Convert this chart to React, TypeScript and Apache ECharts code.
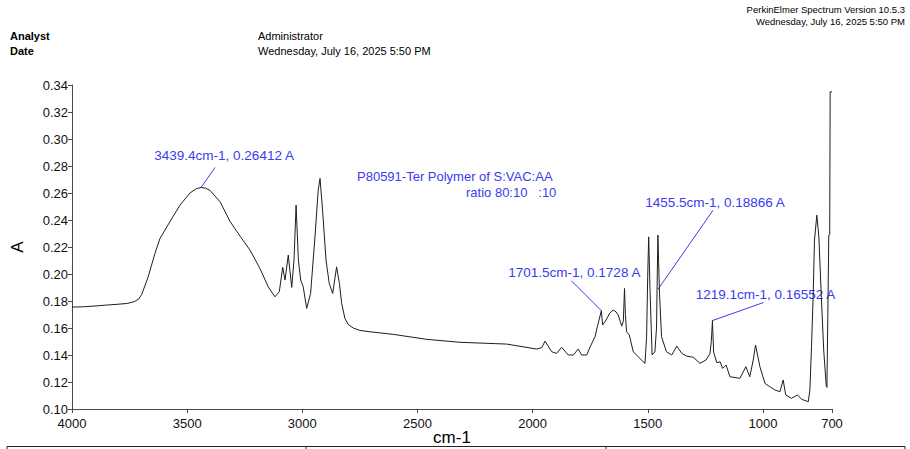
import React, { useEffect, useRef } from "react";
import * as echarts from "echarts";

// Spectrum values (wavenumber in cm-1, absorbance in A)
const wavenumbers = [
  4000, 3950, 3900, 3850, 3800, 3760, 3730, 3710, 3697, 3669, 3640, 3618, 3575, 3531, 3488, 3460, 3439.4, 3420,
  3401, 3357, 3314, 3270, 3227, 3184, 3148, 3119, 3100, 3085, 3075, 3061, 3046, 3036, 3027, 3017, 3007, 2996,
  2981, 2964, 2945, 2931, 2923, 2912, 2897, 2883, 2868, 2851, 2839, 2829, 2815, 2800, 2779, 2750, 2706, 2605,
  2460, 2315, 2113, 1982, 1960, 1946, 1917, 1896, 1874, 1845, 1823, 1802, 1787, 1765, 1750, 1736, 1729, 1719,
  1701.5, 1696, 1681, 1665, 1650, 1638, 1628, 1613, 1606, 1601, 1597, 1592, 1580, 1563, 1541, 1520, 1512, 1505,
  1500, 1496, 1490, 1481, 1469, 1462, 1456, 1453, 1449, 1440, 1419, 1396, 1374, 1352, 1331, 1302, 1273, 1247,
  1230, 1224, 1219.1, 1214, 1200, 1186, 1175, 1160, 1143, 1100, 1074, 1057, 1042, 1032, 1013, 991, 970, 948,
  926, 912, 901, 876, 850, 832, 803, 796, 789, 782, 776, 766, 757, 747, 736, 725, 722, 718, 714, 710, 708, 700,
];
const absorbance = [
  0.1755, 0.1757, 0.1763, 0.177, 0.1776, 0.1782, 0.1795, 0.1815, 0.185, 0.198, 0.2152, 0.2263, 0.2387, 0.251,
  0.26, 0.2632, 0.26412, 0.2636, 0.262, 0.2535, 0.239, 0.228, 0.2177, 0.2041, 0.1905, 0.1831, 0.1868, 0.2049,
  0.1955, 0.214, 0.1901, 0.2103, 0.251, 0.2103, 0.1955, 0.1905, 0.1745, 0.1856, 0.2275, 0.2621, 0.2708, 0.2473,
  0.2103, 0.193, 0.1856, 0.2053, 0.193, 0.1782, 0.1671, 0.1625, 0.16, 0.1582, 0.1572, 0.1553, 0.1516, 0.1494,
  0.1481, 0.1444, 0.1455, 0.1503, 0.1424, 0.1412, 0.1457, 0.14, 0.14, 0.1444, 0.14, 0.14, 0.146, 0.1511, 0.1535,
  0.1609, 0.1728, 0.1622, 0.1659, 0.171, 0.1733, 0.172, 0.1696, 0.1614, 0.165, 0.1893, 0.17, 0.1572, 0.1548,
  0.1424, 0.1387, 0.135, 0.1338, 0.1535, 0.2, 0.2275, 0.1868, 0.14, 0.1424, 0.16, 0.2288, 0.21, 0.1856, 0.1535,
  0.1424, 0.14, 0.1466, 0.1412, 0.1392, 0.1383, 0.1338, 0.1363, 0.141, 0.15, 0.16552, 0.142, 0.1343, 0.135,
  0.1301, 0.1326, 0.1239, 0.1227, 0.1313, 0.1239, 0.1363, 0.1474, 0.1313, 0.119, 0.1165, 0.1141, 0.1128, 0.1215,
  0.1104, 0.1079, 0.1104, 0.1072, 0.1054, 0.1141, 0.1461, 0.1831, 0.2251, 0.2436, 0.2275, 0.1856, 0.1437, 0.117,
  0.116, 0.1708, 0.2288, 0.229, 0.3349, 0.335,
];

const xTickValues = [4000, 3500, 3000, 2500, 2000, 1500, 1000, 700];
const yTickMin = 0.1;
const yTickMax = 0.34;
const yTickStep = 0.02;

const peakWavenumbers = [3439.4, 1701.5, 1455.5, 1219.1];
const peakAbsorbances = [0.26412, 0.1728, 0.18866, 0.16552];
const peakTexts = [
  "3439.4cm-1, 0.26412 A",
  "1701.5cm-1, 0.1728 A",
  "1455.5cm-1, 0.18866 A",
  "1219.1cm-1, 0.16552 A",
];

const sampleTitle = "P80591-Ter Polymer of S:VAC:AA";
const sampleRatio = "ratio 80:10   :10";
const headerLines = ["PerkinElmer Spectrum Version 10.5.3", "Wednesday, July 16, 2025 5:50 PM"];
const infoKeys = ["Analyst", "Date"];
const infoValues = ["Administrator", "Wednesday, July 16, 2025 5:50 PM"];

// layout: offsets of leader-line end and label centre from each peak point (pixels)
const labelLayout = [
  { lx: 14, ly: -20, tx: 23, ty: -32 },
  { lx: -30, ly: -30, tx: -27, ty: -38 },
  { lx: 55, ly: -79, tx: 57, ty: -87 },
  { lx: 51, ly: -18, tx: 53, ty: -26 },
];

const FONT = "'Liberation Sans', Arial, Helvetica, sans-serif";
const BLUE = "#3b3bf0";

export default function App() {
  const ref = useRef<HTMLDivElement>(null);

  useEffect(() => {
    if (!ref.current) return;
    const chart = echarts.init(ref.current, undefined, { renderer: "svg" });
    const axisColor = "#4a4a4a";
    chart.setOption({
      animation: false,
      backgroundColor: "#ffffff",
      grid: { left: 72, right: 78, top: 85, bottom: 40, containLabel: false, outerBoundsMode: "none" },
      xAxis: {
        type: "value",
        min: 700,
        max: 4000,
        inverse: true,
        name: "cm-1",
        nameLocation: "middle",
        nameGap: 20,
        nameMoveOverlap: false,
        nameTextStyle: { fontSize: 17, color: "#000", fontFamily: FONT },
        axisLine: { show: true, lineStyle: { color: axisColor, width: 1 } },
        axisTick: { show: true, length: 4, customValues: xTickValues, lineStyle: { color: axisColor } },
        axisLabel: {
          customValues: xTickValues,
          fontSize: 13,
          color: "#111",
          margin: 8,
          fontFamily: FONT,
          showMinLabel: true,
          showMaxLabel: true,
          formatter: (v: number) => String(v),
        },
        splitLine: { show: false },
      },
      yAxis: {
        type: "value",
        min: yTickMin,
        max: yTickMax,
        interval: yTickStep,
        name: "A",
        nameLocation: "middle",
        nameRotate: 90,
        nameGap: 46,
        nameMoveOverlap: false,
        nameTextStyle: { fontSize: 17, color: "#000", fontFamily: FONT },
        axisLine: { show: true, lineStyle: { color: axisColor, width: 1 } },
        axisTick: { show: true, length: 4, lineStyle: { color: axisColor } },
        axisLabel: {
          fontSize: 13,
          color: "#111",
          margin: 4,
          fontFamily: FONT,
          formatter: (v: number) => v.toFixed(2),
        },
        splitLine: { show: false },
      },
      series: [
        {
          type: "line",
          data: wavenumbers.map((w, i) => [w, absorbance[i]]),
          showSymbol: false,
          symbol: "none",
          silent: true,
          lineStyle: { color: "#1e1e1e", width: 1 },
        },
      ],
    });

    const graphics: any[] = [];
    headerLines.forEach((t, i) => {
      graphics.push({
        type: "text",
        right: 5,
        top: 4 + i * 12,
        style: { text: t, fontSize: 9.5, fill: "#000", fontFamily: FONT },
      });
    });
    infoKeys.forEach((t, i) => {
      graphics.push({
        type: "text",
        x: 10,
        y: 36 + i * 15,
        style: {
          text: t,
          fontSize: 11,
          fontWeight: "bold",
          fill: "#000",
          fontFamily: FONT,
          verticalAlign: "middle",
        },
      });
      graphics.push({
        type: "text",
        x: 258,
        y: 36 + i * 15,
        style: { text: infoValues[i], fontSize: 11, fill: "#000", fontFamily: FONT, verticalAlign: "middle" },
      });
    });
    graphics.push({
      type: "text",
      x: 357,
      y: 176,
      style: { text: sampleTitle, fontSize: 13, fill: BLUE, fontFamily: FONT, verticalAlign: "middle" },
    });
    graphics.push({
      type: "text",
      x: 466,
      y: 192,
      style: { text: sampleRatio, fontSize: 13, fill: BLUE, fontFamily: FONT, verticalAlign: "middle" },
    });

    peakWavenumbers.forEach((w, i) => {
      const p = chart.convertToPixel({ xAxisIndex: 0, yAxisIndex: 0 }, [w, peakAbsorbances[i]]) as number[];
      const L = labelLayout[i];
      graphics.push({
        type: "line",
        shape: { x1: p[0], y1: p[1], x2: p[0] + L.lx, y2: p[1] + L.ly },
        style: { stroke: BLUE, lineWidth: 1 },
        silent: true,
      });
      graphics.push({
        type: "text",
        x: p[0] + L.tx,
        y: p[1] + L.ty,
        style: {
          text: peakTexts[i],
          fontSize: 13.5,
          fill: BLUE,
          fontFamily: FONT,
          align: "center",
          verticalAlign: "middle",
        },
      });
    });

    // table frame edge at the bottom of the page
    graphics.push({
      type: "polyline",
      shape: { points: [[7, 449], [7, 446.5], [905, 446.5], [905, 449]] },
      style: { stroke: "#222", lineWidth: 1, fill: "none" },
      silent: true,
    });
    [306, 606].forEach((x) => {
      graphics.push({
        type: "line",
        shape: { x1: x, y1: 446.5, x2: x, y2: 449 },
        style: { stroke: "#222", lineWidth: 1 },
        silent: true,
      });
    });

    chart.setOption({ graphic: graphics });

    return () => chart.dispose();
  }, []);

  return <div ref={ref} style={{ width: 910, height: 449, position: "absolute", left: 0, top: 0 }} />;
}
